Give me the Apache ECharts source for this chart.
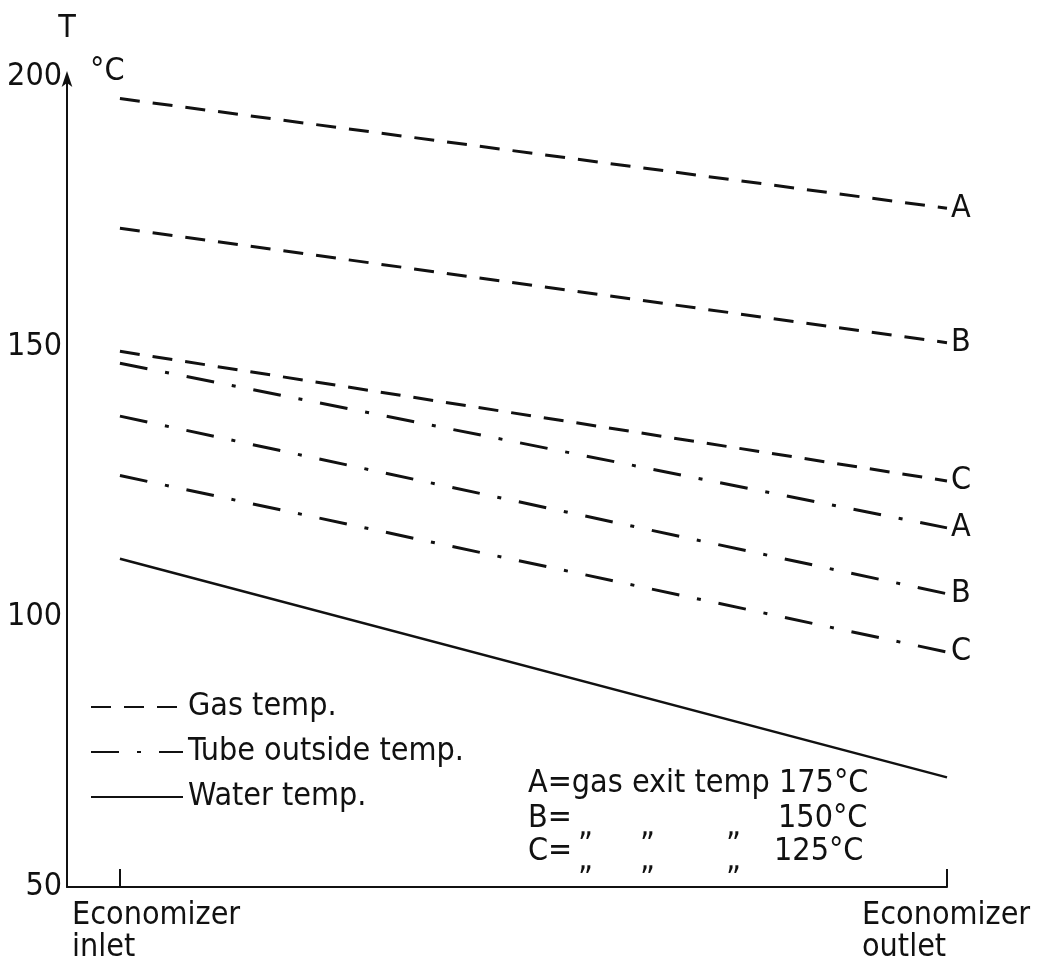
<!DOCTYPE html>
<html>
<head>
    <meta charset="utf-8">
    <title>Economizer temperatures</title>
    <script src="https://cdn.jsdelivr.net/npm/echarts@6/dist/echarts.min.js"></script>
    <style>
        html, body { margin: 0; padding: 0; background: #fff; }
        #main { width: 1047px; height: 974px; }
    </style>
</head>
<body>
<div id="main"></div>
<script type="text/javascript">
    // position along the economizer: 0 = inlet, 1 = outlet
    var positions = [0, 1];
    var yTicks = [50, 100, 150, 200];

    // gas temperature (dashed), cases A, B, C
    var gasA = [196, 175.7];
    var gasB = [172, 150.8];
    var gasC = [149.2, 125.2];
    // tube outside temperature (dash-dot)
    var tubeA = [147, 116.5];
    var tubeB = [137.2, 104.3];
    var tubeC = [126.2, 93.5];
    // water temperature (solid)
    var water = [110.8, 70.3];

    var FONT = "'DejaVu Sans Condensed', 'Liberation Sans Narrow', 'DejaVu Sans', sans-serif";
    var FS = 32;
    var INK = '#111';
    var gasDash = [20, 13];
    var tubeDash = [28, 18, 4, 18];

    function pairs(vals) {
        return vals.map(function (v, i) { return [positions[i], v]; });
    }

    function curve(name, vals, dash, width, tag) {
        return {
            name: name,
            type: 'line',
            data: pairs(vals),
            symbol: 'none',
            silent: true,
            lineStyle: { color: INK, width: width, type: dash, cap: 'butt' },
            itemStyle: { color: INK },
            endLabel: {
                show: !!tag,
                formatter: tag || '',
                distance: 4,
                color: INK,
                fontFamily: FONT,
                fontSize: FS
            }
        };
    }

    function txt(x, y, s) {
        return { type: 'text', left: x, top: y, style: { text: s, font: FS + 'px ' + FONT, fill: INK, lineHeight: 32 } };
    }

    var myChart = echarts.init(document.getElementById('main'));

    var option = {
        backgroundColor: '#fff',
        animation: false,
        textStyle: { fontFamily: FONT, color: INK },
        grid: { left: 67, right: 100, top: 77, bottom: 87, containLabel: false },
        legend: {
            orient: 'vertical',
            left: 85,
            top: 686,
            itemWidth: 92,
            itemHeight: 14,
            itemGap: 13,
            selectedMode: false,
            itemStyle: { opacity: 0 },
            data: ['Gas temp.', 'Tube outside temp.', 'Water temp.'],
            textStyle: { fontFamily: FONT, fontSize: FS, color: INK }
        },
        xAxis: {
            type: 'value',
            min: -0.064,
            max: 1,
            axisLine: { onZero: false, lineStyle: { color: INK, width: 2 } },
            axisTick: { show: true, customValues: [0, 1], inside: true, length: 18, lineStyle: { color: INK, width: 2 } },
            axisLabel: { show: false },
            splitLine: { show: false }
        },
        yAxis: {
            type: 'value',
            min: 50,
            max: 200,
            interval: 50,
            name: 'T',
            nameGap: 32,
            nameTextStyle: { fontFamily: FONT, fontSize: FS, color: INK, align: 'center' },
            axisLine: {
                show: true,
                onZero: false,
                symbol: ['none', 'arrow'],
                symbolSize: [8, 16],
                symbolOffset: [0, 6],
                lineStyle: { color: INK, width: 2 }
            },
            axisTick: { show: false },
            axisLabel: {
                margin: 5,
                fontFamily: FONT,
                fontSize: FS,
                color: INK,
                customValues: yTicks
            },
            splitLine: { show: false }
        },
        graphic: [
            txt(90, 56, '°C'),
            txt(72, 900, 'Economizer\ninlet'),
            txt(862, 900, 'Economizer\noutlet'),
            txt(528, 768, 'A=gas exit temp 175°C'),
            txt(528, 803, 'B='),
            txt(578, 811, '„'),
            txt(640, 811, '„'),
            txt(726, 811, '„'),
            txt(778, 803, '150°C'),
            txt(528, 836, 'C='),
            txt(578, 845, '„'),
            txt(640, 845, '„'),
            txt(726, 845, '„'),
            txt(774, 836, '125°C')
        ],
        series: [
            curve('Gas temp.', gasA, gasDash, 3, 'A'),
            curve('Gas temp.', gasB, gasDash, 3, 'B'),
            curve('Gas temp.', gasC, gasDash, 3, 'C'),
            curve('Tube outside temp.', tubeA, tubeDash, 3, 'A'),
            curve('Tube outside temp.', tubeB, tubeDash, 3, 'B'),
            curve('Tube outside temp.', tubeC, tubeDash, 3, 'C'),
            curve('Water temp.', water, 'solid', 2.5, '')
        ]
    };

    myChart.setOption(option);
</script>
</body>
</html>
